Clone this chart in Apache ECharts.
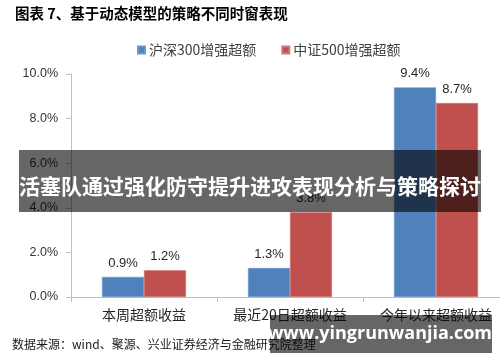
<!DOCTYPE html>
<html><head><meta charset="utf-8">
<script src="https://cdn.jsdelivr.net/npm/echarts@6/dist/echarts.min.js"></script>
<style>html,body{margin:0;padding:0;background:#fff;overflow:hidden;width:500px;height:362px}#c{width:509px;height:362px}</style>
</head><body><div id="c"></div>
<script>
var categories = ['本周超额收益', '最近20日超额收益', '今年以来超额收益'];
var hs300 = [0.9, 1.3, 9.4];
var zz500 = [1.2, 3.8, 8.7];
var seriesNames = ['沪深300增强超额', '中证500增强超额'];
var yTicks = [0, 2, 4, 6, 8, 10];
var titleText = '图表 7、基于动态模型的策略不同时窗表现';
var sourceText = '数据来源：wind、聚源、兴业证券经济与金融研究院整理';
var bannerText = '活塞队通过强化防守提升进攻表现分析与策略探讨';
var watermarkText = 'www.yingrunwanjia.com';

var chart = echarts.init(document.getElementById('c'), null, {renderer: 'canvas'});
var cjk = '"Noto Sans CJK SC", sans-serif';
var lab = {show: true, position: 'top', distance: 7, color: '#262626', fontSize: 13, fontFamily: '"Liberation Sans", Arial, sans-serif', formatter: function(p){return p.value.toFixed(1) + '%';}};
chart.setOption({
  animation: false,
  grid: {left: 71, top: 74, right: 0, bottom: 65, containLabel: false},
  legend: {
    data: seriesNames, left: 132, top: 38, icon: 'rect', itemWidth: 7, itemHeight: 7, itemGap: 25,
    textStyle: {fontSize: 14, color: '#404040', fontFamily: cjk, padding: [0, 0, 0, -1]}
  },
  xAxis: {
    type: 'category', data: categories,
    axisLine: {lineStyle: {color: '#bfbfbf'}},
    axisTick: {show: true, length: 5, lineStyle: {color: '#bfbfbf'}},
    axisLabel: {fontSize: 14, color: '#262626', fontFamily: cjk, margin: 11, interval: 0}
  },
  yAxis: {
    type: 'value', min: 0, max: 10, interval: 2,
    axisLine: {show: true, lineStyle: {color: '#bfbfbf'}},
    axisTick: {show: true, length: 5, lineStyle: {color: '#bfbfbf'}},
    splitLine: {show: false},
    axisLabel: {fontSize: 12.5, color: '#333', margin: 13, fontFamily: '"Liberation Sans", Arial, sans-serif',
      formatter: function(v){ return yTicks.indexOf(v) >= 0 ? v.toFixed(1) + '%' : ''; }}
  },
  series: [
    {name: seriesNames[0], type: 'bar', data: hs300, barWidth: 42, barGap: '0%', itemStyle: {color: '#4f81bd', borderColor: '#6f97c9', borderWidth: 0.5}, label: lab},
    {name: seriesNames[1], type: 'bar', data: zz500, barWidth: 42, itemStyle: {color: '#c0504d', borderColor: '#d07875', borderWidth: 0.5}, label: lab}
  ],
  graphic: [
    {type: 'text', left: 15, top: 6, style: {text: titleText, fontSize: 14.5, fontWeight: 'bold', fill: '#000', fontFamily: cjk}},
    {type: 'text', left: 12, top: 338, style: {text: sourceText, fontSize: 12, fill: '#1a1a1a', fontFamily: cjk}},
    {type: 'rect', shape: {x: 19, y: 150, width: 462, height: 62}, style: {fill: 'rgba(0,0,0,0.6)'}, z: 100},
    {type: 'text', x: 250, y: 186, z: 101, style: {text: bannerText, fontSize: 21, fontWeight: 'bold', fill: '#fff', fontFamily: cjk, align: 'center', verticalAlign: 'middle'}},
    {type: 'rect', shape: {x: 270, y: 315, width: 222, height: 38}, style: {fill: 'rgba(0,0,0,0.6)'}, z: 100},
    {type: 'text', x: 380, y: 334, z: 101, style: {text: watermarkText, fontSize: 18, fontWeight: 'bold', fill: '#fff', fontFamily: '"Open Sans", "DejaVu Sans", sans-serif', align: 'center', verticalAlign: 'middle'}}
  ]
});
</script></body></html>
